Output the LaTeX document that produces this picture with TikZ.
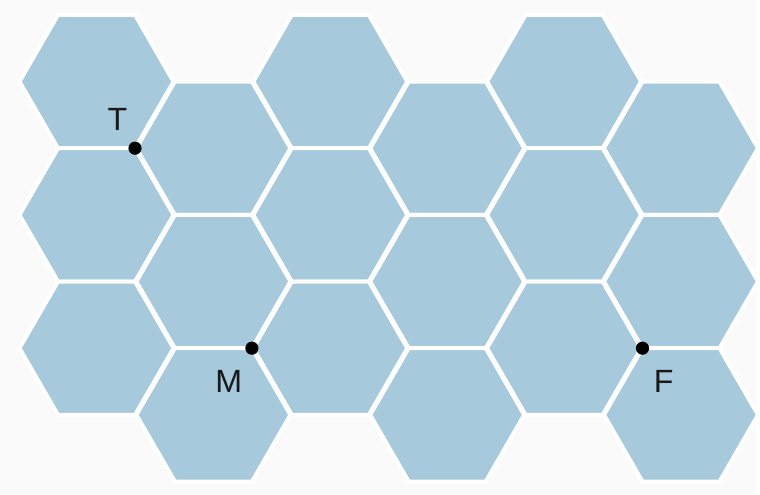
\documentclass[tikz,border=0pt]{standalone}
\usepackage{fontspec}
\setsansfont{Liberation Sans}
\usetikzlibrary{positioning}
\definecolor{hexblue}{HTML}{A6C9DC}
\definecolor{paper}{HTML}{FAFAFA}
\tikzset{
  hexcell/.style={fill=hexblue, draw=white, line width=0.1cm, line join=miter},
  dotpt/.style={circle, fill=black, inner sep=0pt, minimum size=0.33cm},
  lbl/.style={font=\sffamily\fontsize{23}{26}\selectfont, text=black!90, inner sep=0pt},
}
\begin{document}
\begin{tikzpicture}[x=0.025cm, y=-0.025cm]
    % background fixes the page size
    \fill[paper] (0,0) rectangle (760,497);
    % six columns of three cells
    \foreach \col in {0,...,5} {
      \foreach \row in {0,1,2} {
        \pgfmathsetmacro\cx{97+117.5*\col}
        \pgfmathsetmacro\cy{82+134*\row+67*mod(\col,2)}
        \draw[hexcell] (\cx,\cy) ++(0:77.4) -- ++(120:77.4) -- ++(180:77.4)
          -- ++(240:77.4) -- ++(300:77.4) -- ++(0:77.4) -- cycle;
      }
    }
    \node[dotpt] (T) at (135.7,149) {};
    \node[dotpt] (M) at (253.2,350) {};
    \node[dotpt] (F) at (645.8,350) {};
    \node[lbl] (Tlab) at (118,120) {T};
    \node[lbl] (Mlab) at (230,383) {M};
    \node[lbl] (Flab) at (667,383) {F};
\end{tikzpicture}
\end{document}
